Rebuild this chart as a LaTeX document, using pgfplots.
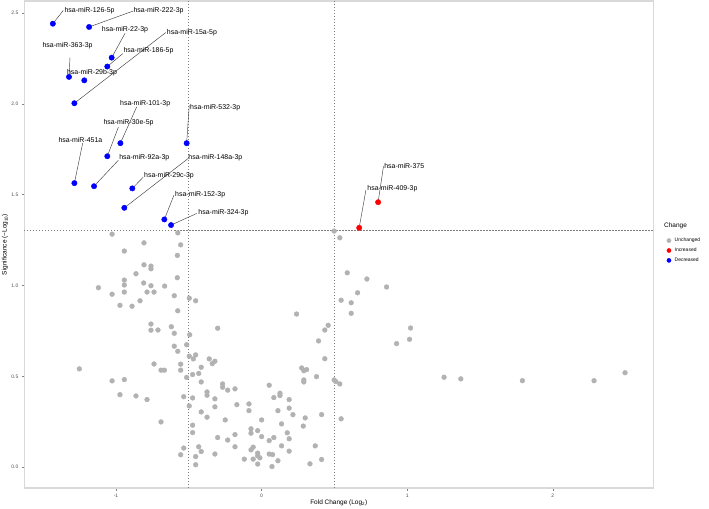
\documentclass[border=0pt]{standalone}
\usepackage{pgfplots}
\pgfplotsset{compat=1.18}
\usepackage{fontspec}
\setmainfont{Liberation Sans}
\definecolor{ptgray}{RGB}{178,178,178}
\definecolor{framec}{RGB}{217,217,217}
\definecolor{ticktext}{RGB}{77,77,77}
\definecolor{thrc}{RGB}{125,125,125}
\begin{document}
\begin{tikzpicture}
\begin{axis}[
  scale only axis, width=629bp, height=487bp,
  xmin=-1.63, xmax=2.69, ymin=-0.115, ymax=2.567,
  axis line style={framec, line width=1.1bp},
  xtick={-1,0,1,2}, ytick={0,0.5,1,1.5,2,2.5},
  xtick pos=bottom, ytick pos=left,
  tick align=outside, major tick length=2.5bp,
  tick style={ticktext!70, line width=0.5bp},
  /pgf/number format/assume math mode=true,
  xticklabel style={font=\fontsize{5}{6}\selectfont, text=ticktext},
  yticklabel style={font=\fontsize{5}{6}\selectfont, text=ticktext, /pgf/number format/.cd, fixed, fixed zerofill, precision=1},
  xlabel={Fold Change (Log\textsubscript{2})},
  ylabel={Significance (−Log\textsubscript{10})},
  label style={font=\fontsize{6.5}{8}\selectfont},
  xlabel style={at={(0.5,-0.0302)}, anchor=center},
  ylabel style={at={(-0.0307,0.5)}, anchor=center},
  legend style={at={(1.0165,0.519)}, anchor=north west, draw=none, fill=none,
    font=\fontsize{5}{6}\selectfont, row sep=3.6bp, column sep=3bp, nodes={inner sep=0.6bp}},
  legend cell align=left,
  legend image code/.code={\draw[mark repeat=2,mark phase=2,#1,mark size=2.1bp] plot coordinates {(0bp,0bp)(2.5bp,0bp)(5bp,0bp)};},
  clip=false,
]
% threshold lines
\draw[thrc, line width=0.75bp, dash pattern=on 1.2bp off 1.8bp] (axis cs:-0.5,-0.115) -- (axis cs:-0.5,2.567);
\draw[thrc, line width=0.75bp, dash pattern=on 1.2bp off 1.8bp] (axis cs:0.5,-0.115) -- (axis cs:0.5,2.567);
\draw[thrc, line width=0.75bp, dash pattern=on 1.2bp off 1.8bp] (axis cs:-1.63,1.30103) -- (axis cs:2.69,1.30103);

\addplot[only marks, mark=*, mark size=2.4bp, color=ptgray, mark options={draw=ptgray, fill=ptgray}] table {
x y
-1.027 1.283
-0.943 1.190
-0.808 1.235
-0.808 1.114
-0.760 1.107
-0.760 1.092
-0.863 1.065
-1.121 0.988
-0.943 1.030
-0.943 1.003
-0.810 1.014
-0.760 0.999
-0.787 0.964
-0.739 0.964
-0.943 0.964
-1.027 0.952
-0.666 0.997
-0.579 1.166
-0.556 1.224
-0.579 1.043
-0.600 0.944
-0.576 1.290
-0.973 0.891
-0.890 0.886
-0.835 0.916
-0.576 0.861
-0.497 0.930
-0.453 0.916
-0.760 0.788
-0.760 0.754
-0.712 0.755
-0.620 0.773
-0.600 0.737
-0.494 0.729
-0.302 0.765
-0.600 0.666
-0.576 0.638
-0.515 0.674
-0.497 0.611
-0.469 0.596
-0.453 0.618
-0.360 0.596
-0.321 0.583
-0.339 0.570
-0.415 0.550
-1.252 0.541
-0.739 0.568
-0.691 0.534
-0.668 0.534
-0.556 0.567
-0.556 0.534
-0.515 0.494
-0.474 0.510
-0.432 0.516
-1.027 0.475
-0.943 0.482
-0.973 0.399
-0.863 0.392
-0.787 0.372
-0.691 0.249
-0.415 0.469
-0.535 0.388
-0.474 0.381
-0.497 0.337
-0.375 0.414
-0.375 0.396
-0.321 0.376
-0.321 0.332
-0.415 0.304
-0.375 0.275
-0.474 0.231
-0.474 0.190
-0.250 0.260
-0.302 0.163
-0.233 0.149
-0.183 0.179
-0.183 0.112
-0.432 0.112
-0.535 0.105
-0.556 0.068
-0.453 0.058
-0.415 0.086
-0.321 0.072
-0.453 0.013
-0.119 0.044
-0.268 0.458
-0.268 0.440
-0.233 0.424
-0.183 0.431
-0.170 0.344
-0.087 0.348
-0.087 0.311
0.000 0.260
0.052 0.451
-0.073 0.211
-0.073 0.187
-0.027 0.201
0.000 0.168
0.052 0.146
-0.073 0.095
-0.058 0.110
-0.027 0.077
-0.027 0.062
-0.058 0.044
-0.027 0.017
0.052 0.072
0.075 0.069
-0.012 0.051
0.434 0.755
0.391 0.695
0.434 0.597
0.275 0.546
0.290 0.531
0.309 0.537
0.377 0.498
0.290 0.480
0.290 0.469
0.084 0.383
0.126 0.407
0.126 0.394
0.189 0.372
0.112 0.311
0.189 0.325
0.215 0.289
0.299 0.271
0.412 0.289
0.137 0.238
0.286 0.226
0.084 0.163
0.176 0.189
0.189 0.156
0.137 0.117
0.189 0.088
0.368 0.117
0.332 0.018
0.412 0.042
0.112 0.035
0.071 0.003
0.498 0.480
0.510 0.471
0.537 0.458
0.546 0.266
0.927 0.680
1.016 0.704
1.253 0.495
1.368 0.486
0.498 1.300
0.537 1.263
0.588 1.070
0.723 1.036
0.858 0.992
0.659 0.960
0.546 0.919
0.615 0.905
0.615 0.847
0.240 0.843
0.457 0.781
1.023 0.766
1.791 0.476
2.283 0.476
2.496 0.520
};
\addlegendentry{Unchanged}

\addplot[only marks, mark=*, mark size=2.7bp, color=red, mark options={draw=red, fill=red}] table {
x y
0.800 1.459
0.670 1.318
};
\addlegendentry{Increased}

\addplot[only marks, mark=*, mark size=2.7bp, color=blue, mark options={draw=blue, fill=blue}] table {
x y
-1.434 2.442
-1.185 2.424
-1.030 2.255
-1.060 2.206
-1.323 2.149
-1.218 2.130
-1.286 2.004
-0.970 1.784
-1.060 1.712
-0.515 1.784
-1.286 1.564
-1.151 1.547
-0.888 1.535
-0.943 1.428
-0.668 1.364
-0.622 1.333
};
\addlegendentry{Decreased}

% label connectors
\tikzset{labline/.style={black!75, line width=0.45bp}, lab/.style={anchor=west, inner sep=0pt, font=\fontsize{7}{8}\selectfont}}
\draw[labline] (axis cs:-1.434,2.442) -- (axis cs:-1.362,2.515);
\draw[labline] (axis cs:-1.185,2.424) -- (axis cs:-0.881,2.512);
\draw[labline] (axis cs:-1.030,2.255) -- (axis cs:-0.938,2.389);
\draw[labline] (axis cs:-1.060,2.206) -- (axis cs:-0.954,2.277);
\draw[labline] (axis cs:-1.286,2.004) -- (axis cs:-0.659,2.393);
\draw[labline] (axis cs:-1.323,2.149) -- (axis cs:-1.316,2.257);
\draw[labline] (axis cs:-0.970,1.784) -- (axis cs:-0.858,1.984);
\draw[labline] (axis cs:-1.060,1.712) -- (axis cs:-0.984,1.872);
\draw[labline] (axis cs:-0.515,1.784) -- (axis cs:-0.497,1.993);
\draw[labline] (axis cs:-1.286,1.564) -- (axis cs:-1.229,1.784);
\draw[labline] (axis cs:-1.151,1.547) -- (axis cs:-0.984,1.690);
\draw[labline] (axis cs:-0.943,1.428) -- (axis cs:-0.504,1.700);
\draw[labline] (axis cs:-0.888,1.535) -- (axis cs:-0.813,1.597);
\draw[labline] (axis cs:-0.668,1.364) -- (axis cs:-0.602,1.498);
\draw[labline] (axis cs:-0.622,1.333) -- (axis cs:-0.446,1.397);
\draw[labline] (axis cs:0.800,1.459) -- (axis cs:0.837,1.657);
\draw[labline] (axis cs:0.670,1.318) -- (axis cs:0.716,1.525);

\node[lab] at (axis cs:-1.355,2.512) {hsa-miR-126-5p};
\node[lab] at (axis cs:-0.881,2.512) {hsa-miR-222-3p};
\node[lab] at (axis cs:-1.098,2.411) {hsa-miR-22-3p};
\node[lab] at (axis cs:-0.950,2.292) {hsa-miR-186-5p};
\node[lab] at (axis cs:-0.652,2.391) {hsa-miR-15a-5p};
\node[lab] at (axis cs:-1.506,2.319) {hsa-miR-363-3p};
\node[lab] at (axis cs:-1.338,2.174) {hsa-miR-29b-3p};
\node[lab] at (axis cs:-0.973,2.000) {hsa-miR-101-3p};
\node[lab] at (axis cs:-1.087,1.898) {hsa-miR-30e-5p};
\node[lab] at (axis cs:-0.492,1.980) {hsa-miR-532-3p};
\node[lab] at (axis cs:-1.396,1.804) {hsa-miR-451a};
\node[lab] at (axis cs:-0.979,1.703) {hsa-miR-92a-3p};
\node[lab] at (axis cs:-0.504,1.703) {hsa-miR-148a-3p};
\node[lab] at (axis cs:-0.808,1.604) {hsa-miR-29c-3p};
\node[lab] at (axis cs:-0.595,1.498) {hsa-miR-152-3p};
\node[lab] at (axis cs:-0.435,1.400) {hsa-miR-324-3p};
\node[lab] at (axis cs:0.841,1.657) {hsa-miR-375};
\node[lab] at (axis cs:0.725,1.535) {hsa-miR-409-3p};

\node[anchor=west, inner sep=0pt, font=\fontsize{6.5}{8}\selectfont] at (rel axis cs:1.017,0.5386) {Change};
\end{axis}
\pgfresetboundingbox
\path (-24.3bp,-20.7bp) rectangle (684.7bp,488bp);
\end{tikzpicture}
\end{document}
